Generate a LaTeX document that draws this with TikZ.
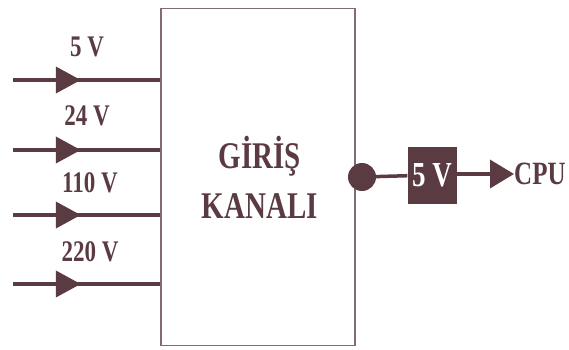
\documentclass[tikz,border=0pt]{standalone}
\usepackage{fontspec}
\setmainfont{Liberation Serif}
\usepackage{graphicx}
\usetikzlibrary{arrows.meta,positioning,calc,decorations.markings}
\definecolor{ink}{HTML}{5A3B42}
\newcommand{\tallbox}[1]{\scalebox{1}[1.3]{#1}}

\begin{document}
\begin{tikzpicture}[x=1pt,y=-1pt,
    feed/.style={draw=ink, line width=4pt, postaction={decorate},
      decoration={markings, mark=at position 0.46 with {\arrow{Triangle[length=25pt,width=26pt]}}}},
    vlabel/.style={text=ink, font=\bfseries\fontsize{23}{26}\selectfont, inner sep=0pt}]
    \useasboundingbox (0,0) rectangle (569,349);

    % Input channel block
    \node[draw=ink!75, line width=1.3pt, minimum width=194pt, minimum height=337pt] (kanal) at (258,177) {};
    \node[vlabel, font=\bfseries\fontsize{29}{30}\selectfont] (giris) at (260,156) {\tallbox{GİRİŞ}};
    \node[vlabel, font=\bfseries\fontsize{29}{30}\selectfont] (kanali) at (260,206) {\tallbox{KANALI}};

    % Inputs
    \coordinate (in1) at (13,80);
    \coordinate (in2) at (13,150);
    \coordinate (in3) at (13,215);
    \coordinate (in4) at (13,284);
    \draw[feed] (in1) -- (in1 -| kanal.west);
    \draw[feed] (in2) -- (in2 -| kanal.west);
    \draw[feed] (in3) -- (in3 -| kanal.west);
    \draw[feed] (in4) -- (in4 -| kanal.west);
    \node[vlabel] (v5) at (87,47) {\tallbox{5 V}};
    \node[vlabel] (v24) at (87,116) {\tallbox{24 V}};
    \node[vlabel] (v110) at (90,183) {\tallbox{110 V}};
    \node[vlabel] (v220) at (90,252) {\tallbox{220 V}};

    % Output to CPU
    \node[circle, fill=ink, minimum size=28pt, inner sep=0pt] (dot) at (362,177) {};
    \node[fill=ink, text=white, minimum width=49pt, minimum height=57pt, inner sep=0pt,
      font=\bfseries\fontsize{27}{28}\selectfont] (reg) at (432,175) {\tallbox{5 V}};
    \node[vlabel, font=\bfseries\fontsize{25}{28}\selectfont, anchor=west] (cpu) at (514,174) {\tallbox{CPU}};
    \draw[ink, line width=3.5pt] (dot) -- (reg);
    \draw[ink, line width=3.5pt, -{Triangle[length=24pt,width=28pt]}] (reg.east |- cpu.west) -- (cpu.west);
\end{tikzpicture}
\end{document}
